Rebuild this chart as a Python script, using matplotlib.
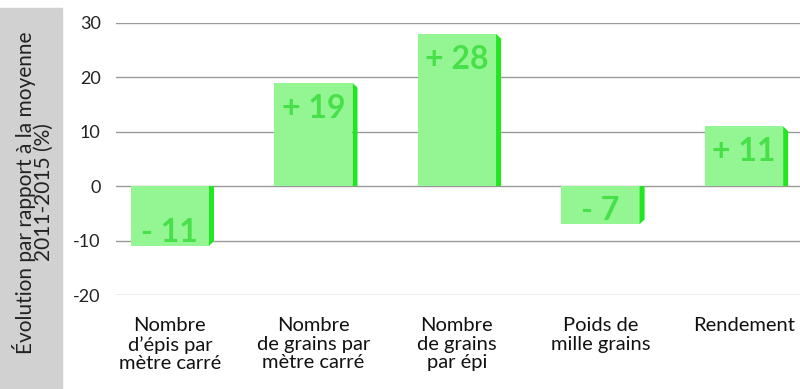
import matplotlib.pyplot as plt
from matplotlib.patches import Polygon, Rectangle

# données
categories = ["Nombre\nd’épis par\nmètre carré",
              "Nombre\nde grains par\nmètre carré",
              "Nombre\nde grains\npar épi",
              "Poids de\nmille grains",
              "Rendement"]
valeurs = [-11, 19, 28, -7, 11]
etiquettes = ["- 11", "+ 19", "+ 28", "- 7", "+ 11"]
yticks = [-20, -10, 0, 10, 20, 30]

face = "#93f693"
cote = "#22e622"
texte = "#48e048"

fig = plt.figure(figsize=(8, 3.89), dpi=100)
ax = fig.add_axes([0.145, 0.2416, 0.855, 0.6996])

x = list(range(len(valeurs)))
w = 0.545
ax.bar(x, valeurs, width=w, color=face, zorder=3)

# côté "3D" de chaque barre
dx = 5 / 143
dy = 0.9
for xi, v in zip(x, valeurs):
    x1 = xi + w / 2
    s = 1 if v > 0 else -1
    poly = Polygon([(x1, 0), (x1, v), (x1 + dx, v - s * dy), (x1 + dx, 0)],
                   closed=True, color=cote, lw=0, zorder=3)
    ax.add_patch(poly)
    ypos = v - 6.4 if v > 0 else v + 0.7
    ax.text(xi, ypos, etiquettes[xi], ha="center", va="baseline", color=texte,
            fontsize=23, fontweight="bold", family="Lato", zorder=4)

ax.set_ylim(-20, 30)
ax.set_xlim(-0.375, 4.39)
ax.set_yticks(yticks)
ax.set_yticklabels([str(t) for t in yticks], fontsize=13, family="Lato", color="#222222")
ax.set_xticks(x)
ax.set_xticklabels(categories, fontsize=14.5, family="Lato", color="#111111", linespacing=1.1)
ax.tick_params(axis="both", length=0)
ax.tick_params(axis="y", pad=11)
ax.tick_params(axis="x", pad=16)
ax.grid(axis="y", color="#999999", lw=1, zorder=1)
for sp in ax.spines.values():
    sp.set_visible(False)

# bande grise du titre de l'axe
fig.patches.append(Rectangle((0, 0), 62 / 800, 1 - 8 / 389, transform=fig.transFigure,
                             color="#d1d1d1", zorder=0))
fig.text(33 / 800, 0.505, "Évolution par rapport à la moyenne\n2011-2015 (%)",
         rotation=90, ha="center", va="center", fontsize=15, family="Lato",
         color="#222222", linespacing=0.9)

plt.savefig("out.png", dpi=100)
